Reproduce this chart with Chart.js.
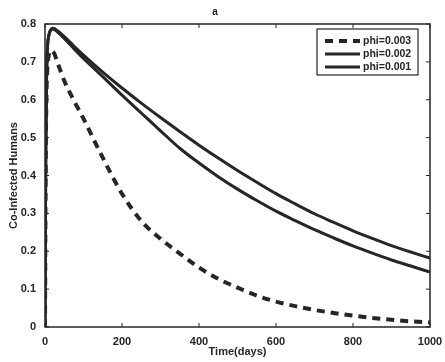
<!DOCTYPE html>
<html>
<head>
<meta charset="utf-8">
<script src="https://cdn.jsdelivr.net/npm/chart.js@4/dist/chart.umd.min.js"></script>
<style>
  html, body { margin: 0; padding: 0; background: #fff; }
  #wrap { width: 445px; height: 362px; }
</style>
</head>
<body>
<div id="wrap"><canvas id="grafico"></canvas></div>
<script>
// tiempo (dias) y valores
const dias = [0, 1, 2, 4, 6, 10, 15, 20, 25, 30, 40, 50, 75, 100, 150, 200, 250, 300, 350, 400,
  450, 500, 550, 600, 650, 700, 750, 800, 850, 900, 950, 1000];
const phi003 = [0, 0.25, 0.45, 0.62, 0.68, 0.72, 0.73, 0.728, 0.72, 0.705, 0.677, 0.65, 0.598, 0.55,
  0.447, 0.352, 0.28, 0.233, 0.194, 0.157, 0.127, 0.104, 0.083, 0.067, 0.055, 0.045, 0.037, 0.03,
  0.024, 0.019, 0.015, 0.012];
const phi002 = [0, 0.25, 0.45, 0.65, 0.73, 0.77, 0.783, 0.787, 0.785, 0.781, 0.772, 0.762, 0.735,
  0.709, 0.661, 0.612, 0.565, 0.518, 0.472, 0.433, 0.397, 0.364, 0.334, 0.306, 0.281, 0.257, 0.235,
  0.214, 0.195, 0.177, 0.161, 0.145];
const phi001 = [0, 0.25, 0.45, 0.65, 0.73, 0.77, 0.785, 0.789, 0.788, 0.784, 0.776, 0.767, 0.742,
  0.718, 0.673, 0.631, 0.591, 0.553, 0.516, 0.48, 0.446, 0.413, 0.382, 0.352, 0.325, 0.299, 0.276,
  0.254, 0.234, 0.215, 0.198, 0.182];
const etiquetas = ['phi=0.003', 'phi=0.002', 'phi=0.001'];
const ticksX = [0, 200, 400, 600, 800, 1000];
const ticksY = [0, 0.1, 0.2, 0.3, 0.4, 0.5, 0.6, 0.7, 0.8];

const tinta = '#262626';
const fuente = "'Liberation Sans', Arial, sans-serif";

function puntos(valores) {
  return dias.map((d, i) => ({ x: d, y: valores[i] }));
}

// caja, marcas interiores y leyenda al estilo matlab
const marcoPlugin = {
  id: 'marco',
  afterDraw(chart) {
    const ctx = chart.ctx;
    const a = chart.chartArea;
    const sx = chart.scales.x;
    const sy = chart.scales.y;
    ctx.save();
    ctx.strokeStyle = tinta;
    ctx.lineWidth = 1.5;
    ctx.strokeRect(a.left, a.top, a.right - a.left, a.bottom - a.top);
    ctx.lineWidth = 1;
    ctx.beginPath();
    ticksX.forEach(v => {
      const px = sx.getPixelForValue(v);
      ctx.moveTo(px, a.bottom); ctx.lineTo(px, a.bottom - 4);
      ctx.moveTo(px, a.top); ctx.lineTo(px, a.top + 4);
    });
    ticksY.forEach(v => {
      const py = sy.getPixelForValue(v);
      ctx.moveTo(a.left, py); ctx.lineTo(a.left + 4, py);
      ctx.moveTo(a.right, py); ctx.lineTo(a.right - 4, py);
    });
    ctx.stroke();

    // leyenda
    const bx = 317, by = 29, bw = 101, bh = 46;
    ctx.fillStyle = '#fff';
    ctx.fillRect(bx, by, bw, bh);
    ctx.lineWidth = 1.2;
    ctx.strokeRect(bx, by, bw, bh);
    chart.data.datasets.forEach((ds, i) => {
      const y = by + 12 + i * 13;
      ctx.beginPath();
      ctx.strokeStyle = ds.borderColor;
      ctx.lineWidth = ds.borderWidth;
      ctx.setLineDash(ds.borderDash || []);
      ctx.moveTo(bx + 8, y);
      ctx.lineTo(bx + 43, y);
      ctx.stroke();
      ctx.setLineDash([]);
      ctx.fillStyle = tinta;
      ctx.font = 'bold 10.5px ' + fuente;
      ctx.textBaseline = 'middle';
      ctx.textAlign = 'left';
      ctx.fillText(ds.label, bx + 46, y + 0.5);
    });
    ctx.restore();
  }
};

new Chart(document.getElementById('grafico'), {
  type: 'line',
  data: {
    datasets: [
      {
        label: etiquetas[0],
        data: puntos(phi003),
        borderColor: tinta,
        borderWidth: 4,
        borderDash: [8, 6]
      },
      {
        label: etiquetas[1],
        data: puntos(phi002),
        borderColor: tinta,
        borderWidth: 3
      },
      {
        label: etiquetas[2],
        data: puntos(phi001),
        borderColor: tinta,
        borderWidth: 3
      }
    ]
  },
  options: {
    responsive: true,
    maintainAspectRatio: false,
    animation: false,
    layout: { padding: { left: 0, right: 15, top: 0, bottom: 0 } },
    elements: {
      point: { radius: 0 },
      line: { cubicInterpolationMode: 'monotone', fill: false }
    },
    plugins: {
      legend: { display: false },
      tooltip: { enabled: false },
      title: {
        display: true,
        text: 'a',
        color: tinta,
        font: { family: fuente, size: 10, weight: 'bold' },
        padding: { top: 6, bottom: 6 }
      }
    },
    scales: {
      x: {
        type: 'linear',
        min: 0,
        max: 1000,
        grid: { display: false },
        border: { display: false },
        afterBuildTicks: s => { s.ticks = ticksX.map(v => ({ value: v })); },
        afterFit: s => { s.height = 35; },
        ticks: {
          color: tinta,
          padding: 0,
          maxRotation: 0,
          font: { family: fuente, size: 11, weight: 'bold' },
          callback: v => String(v)
        },
        title: {
          display: true,
          text: 'Time(days)',
          color: tinta,
          padding: { top: 0, bottom: 3 },
          font: { family: fuente, size: 11, weight: 'bold' }
        }
      },
      y: {
        min: 0,
        max: 0.8,
        grid: { display: false },
        border: { display: false },
        afterBuildTicks: s => { s.ticks = ticksY.map(v => ({ value: v })); },
        afterFit: s => { s.width = 45; },
        ticks: {
          color: tinta,
          padding: 1,
          font: { family: fuente, size: 11, weight: 'bold' },
          callback: v => String(Math.round(v * 10) / 10)
        },
        title: {
          display: true,
          text: 'Co-Infected Humans',
          color: tinta,
          padding: { top: 7, bottom: 0 },
          font: { family: fuente, size: 11, weight: 'bold' }
        }
      }
    }
  },
  plugins: [marcoPlugin]
});
</script>
</body>
</html>
